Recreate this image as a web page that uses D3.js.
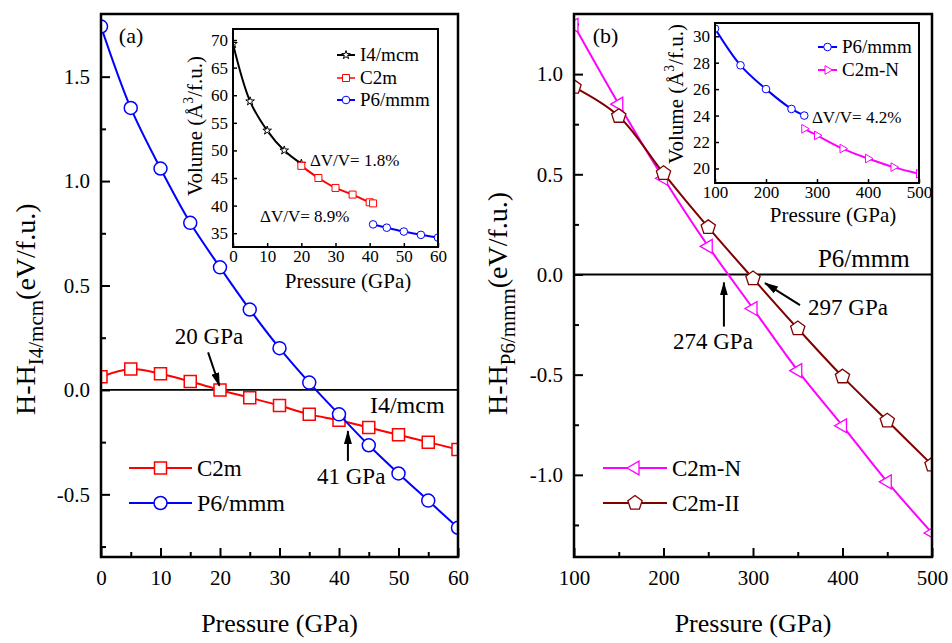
<!DOCTYPE html>
<html>
<head>
<meta charset="utf-8">
<script src="https://d3js.org/d3.v7.min.js"></script>
<style>
  body { margin:0; background:#fff; }
  text { font-family:"Liberation Serif","Times New Roman",serif; fill:#000; }
</style>
</head>
<body>
<div id="chart"></div>
<script>
// ---- panel (a): enthalpy relative to I4/mcm ----
var pressureA = [0,5,10,15,20,25,30,35,40,45,50,55,60];
var c2mA      = [0.063,0.10,0.077,0.04,0.0,-0.037,-0.075,-0.117,-0.145,-0.18,-0.215,-0.25,-0.285];
var p6mmmA    = [1.74,1.35,1.06,0.80,0.587,0.385,0.20,0.035,-0.117,-0.265,-0.40,-0.53,-0.66];

// inset (a): volume
var insetI4P  = [0,5,10,15,20];
var insetI4V  = [69.3,58.9,53.6,50.0,47.6];
var insetC2mP = [20,25,30,35,40,41];
var insetC2mV = [47.2,45.0,43.2,42.0,40.6,40.4];
var insetP6P  = [41,45,50,55,60];
var insetP6V  = [36.6,36.0,35.3,34.7,34.2];

// ---- panel (b): enthalpy relative to P6/mmm ----
var pressureB = [100,150,200,250,300,350,400,450,500];
var c2mNB     = [1.244,0.85,0.48,0.14,-0.17,-0.48,-0.755,-1.035,-1.29];
var c2mIIB    = [0.935,0.79,0.505,0.235,-0.02,-0.27,-0.51,-0.73,-0.95];

// inset (b): volume
var insetBP6P  = [100,150,200,250,275];
var insetBP6V  = [30.58,27.8,26.0,24.5,24.0];
var insetBC2mP = [275,300,350,400,450,500];
var insetBC2mV = [23.0,22.5,21.5,20.75,20.1,19.6];

// tick values
var ticksAx = [0,10,20,30,40,50,60],  minorAx = [5,15,25,35,45,55];
var ticksAy = [-0.5,0,0.5,1,1.5],     minorAy = [-0.75,-0.25,0.25,0.75,1.25,1.75];
var ticksBx = [100,200,300,400,500],  minorBx = [150,250,350,450];
var ticksBy = [-1,-0.5,0,0.5,1],      minorBy = [-1.25,-0.75,-0.25,0.25,0.75,1.25];
var ticksIAx = [0,10,20,30,40,50,60], ticksIAy = [35,40,45,50,55,60,65,70];
var ticksIBx = [100,200,300,400,500], ticksIBy = [20,22,24,26,28,30];

var BLUE = "#0000ff", RED = "#ff0000", MAG = "#ff00ff", WINE = "#800000";

var svg = d3.select("#chart").append("svg").attr("width",952).attr("height",643);
var defs = svg.append("defs");
defs.append("marker").attr("id","arrow")
  .attr("viewBox","0 0 14 8").attr("refX",13).attr("refY",4)
  .attr("markerUnits","userSpaceOnUse").attr("markerWidth",14).attr("markerHeight",8)
  .attr("orient","auto")
  .append("path").attr("d","M0,0L14,4L0,8Z").attr("fill","#000");

function shapePath(shape, r) {
  if (shape == "circle") return d3.symbol(d3.symbolCircle, Math.PI*r*r)();
  if (shape == "square") return "M"+(-r)+","+(-r)+"H"+r+"V"+r+"H"+(-r)+"Z";
  if (shape == "star") return d3.symbol(d3.symbolStar, r*r/0.8908)();
  var pts;
  if (shape == "triL") pts = [[-r,0],[r/2,-r*0.866],[r/2,r*0.866]];
  if (shape == "triR") pts = [[r,0],[-r/2,-r*0.866],[-r/2,r*0.866]];
  if (shape == "pent") pts = d3.range(5).map(function(k){
    var a = (-90 + k*72)*Math.PI/180; return [r*Math.cos(a), r*Math.sin(a)]; });
  return "M" + pts.map(function(p){return p.join(",");}).join("L") + "Z";
}

var clipN = 0;
function plotArea(x, y) {
  var id = "clip" + (clipN++);
  defs.append("clipPath").attr("id",id).append("rect")
    .attr("x",x.range()[0]).attr("y",y.range()[1])
    .attr("width",x.range()[1]-x.range()[0]).attr("height",y.range()[0]-y.range()[1]);
  return svg.append("g").attr("clip-path","url(#"+id+")");
}

function axes(x, y, o) {
  var b = y.range()[0], l = x.range()[0];
  function style(g, fs, sw) {
    g.attr("font-family","Liberation Serif, Times New Roman, serif").attr("font-size",fs);
    g.select(".domain").remove();
    g.selectAll("line").attr("stroke-width",sw);
  }
  if (o.xMinor) svg.append("g").attr("transform","translate(0,"+b+")")
    .call(d3.axisBottom(x).tickValues(o.xMinor).tickSize(-o.minor).tickFormat(""))
    .call(style, o.fs, o.sw);
  svg.append("g").attr("transform","translate(0,"+b+")")
    .call(d3.axisBottom(x).tickValues(o.xMajor).tickSize(-o.major).tickPadding(o.xPad).tickFormat(d3.format("d")))
    .call(style, o.fs, o.sw);
  if (o.yMinor) svg.append("g").attr("transform","translate("+l+",0)")
    .call(d3.axisLeft(y).tickValues(o.yMinor).tickSize(-o.minor).tickFormat(""))
    .call(style, o.fs, o.sw);
  svg.append("g").attr("transform","translate("+l+",0)")
    .call(d3.axisLeft(y).tickValues(o.yMajor).tickSize(-o.major).tickPadding(o.yPad)
      .tickFormat(function(d){ return o.yFmt ? d.toFixed(o.yFmt) : d3.format("d")(d); }))
    .call(style, o.fs, o.sw);
}

function frame(x, y, sw, fill) {
  svg.append("rect")
    .attr("x",x.range()[0]).attr("y",y.range()[1])
    .attr("width",x.range()[1]-x.range()[0]).attr("height",y.range()[0]-y.range()[1])
    .attr("fill",fill || "none").attr("stroke","#000").attr("stroke-width",sw);
}

function series(g, x, y, px, vals, color, shape, r, lw, msw) {
  var pts = px.map(function(p,i){ return [p, vals[i]]; });
  g.append("path").datum(pts)
    .attr("d", d3.line().x(function(d){return x(d[0]);}).y(function(d){return y(d[1]);}).curve(d3.curveCatmullRom))
    .attr("fill","none").attr("stroke",color).attr("stroke-width",lw);
  g.selectAll(null).data(pts).enter().append("path")
    .attr("transform",function(d){ return "translate("+x(d[0])+","+y(d[1])+")"; })
    .attr("d", shapePath(shape, r))
    .attr("fill","#fff").attr("stroke",color).attr("stroke-width",msw);
}

function legendItem(x1, x2, yy, color, shape, r, lw, msw, label, fs) {
  svg.append("line").attr("x1",x1).attr("x2",x2).attr("y1",yy).attr("y2",yy)
    .attr("stroke",color).attr("stroke-width",lw);
  svg.append("path").attr("transform","translate("+((x1+x2)/2)+","+yy+")")
    .attr("d",shapePath(shape,r)).attr("fill","#fff").attr("stroke",color).attr("stroke-width",msw);
  svg.append("text").attr("x",x2+5).attr("y",yy).attr("dy","0.33em").attr("font-size",fs).text(label);
}

function label(x, y, px, py, txt, fs) {
  svg.append("text").attr("x",x(px)).attr("y",y(py)).attr("font-size",fs).text(txt);
}

function arrow(x, y, p0, v0, p1, v1) {
  svg.append("line").attr("x1",x(p0)).attr("y1",y(v0)).attr("x2",x(p1)).attr("y2",y(v1))
    .attr("stroke","#000").attr("stroke-width",2).attr("marker-end","url(#arrow)");
}

function yTitle(bx, by, sub, fs, sfs) {
  var t = svg.append("text").attr("transform","translate("+bx+","+by+") rotate(-90)")
    .attr("font-size",fs);
  t.append("tspan").text("H-H");
  t.append("tspan").attr("font-size",sfs).attr("dy",8).text(sub);
  t.append("tspan").attr("dy",-8).text("(eV/f.u.)");
}

function volTitle(bx, cy, fs) {
  var t = svg.append("text").attr("transform","translate("+bx+","+cy+") rotate(-90)")
    .attr("text-anchor","middle").attr("font-size",fs);
  t.append("tspan").text("Volume (Å");
  t.append("tspan").attr("font-size",fs*0.65).attr("dy",-9).text("3");
  t.append("tspan").attr("dy",9).text("/f.u.)");
}

// ================= panel (a) =================
var xA = d3.scaleLinear().domain([0,60]).range([101,458]);
var yA = d3.scaleLinear().domain([-0.8,1.8]).range([557,14]);
axes(xA, yA, {xMajor:ticksAx, xMinor:minorAx, yMajor:ticksAy, yMinor:minorAy,
  major:9, minor:5, fs:21, sw:2, xPad:13, yPad:11, yFmt:1});
var gA = plotArea(xA, yA);
gA.append("line").attr("x1",xA(0)).attr("x2",xA(60)).attr("y1",yA(0)).attr("y2",yA(0))
  .attr("stroke","#000").attr("stroke-width",1.8);
series(gA, xA, yA, pressureA, c2mA, RED, "square", 6, 2, 1.5);
series(gA, xA, yA, pressureA, p6mmmA, BLUE, "circle", 6.5, 2, 1.5);
frame(xA, yA, 2.5);
legendItem(129, 192, 468, RED, "square", 6, 2, 1.5, "C2m", 23);
legendItem(129, 192, 503, BLUE, "circle", 6.5, 2, 1.5, "P6/mmm", 24);
label(xA, yA, 3.0, 1.66, "(a)", 22);
label(xA, yA, 12.4, 0.22, "20 GPa", 23);
arrow(xA, yA, 18.0, 0.18, 19.9, 0.02);
label(xA, yA, 45.2, -0.11, "I4/mcm", 24);
label(xA, yA, 36.3, -0.45, "41 GPa", 23);
arrow(xA, yA, 41.5, -0.34, 41.5, -0.197);
svg.append("text").attr("x",(xA.range()[0]+xA.range()[1])/2).attr("y",632)
  .attr("text-anchor","middle").attr("font-size",26).text("Pressure (GPa)");
yTitle(35, 415, "I4/mcm", 28, 21);

// inset (a)
var xIA = d3.scaleLinear().domain([0,60]).range([233,438]);
var yIA = d3.scaleLinear().domain([32.5,72]).range([247,29]);
frame(xIA, yIA, 2, "#fff");
axes(xIA, yIA, {xMajor:ticksIAx, yMajor:ticksIAy, major:4, minor:0, fs:17, sw:1.5, xPad:3, yPad:5});
var gIA = plotArea(xIA, yIA);
series(gIA, xIA, yIA, insetI4P, insetI4V, "#000", "star", 4.5, 2, 1);
series(gIA, xIA, yIA, insetC2mP, insetC2mV, RED, "square", 3.5, 2, 1);
series(gIA, xIA, yIA, insetP6P, insetP6V, BLUE, "circle", 3.8, 2, 1);
frame(xIA, yIA, 2);
legendItem(337, 355, 55, "#000", "star", 4.5, 2, 1, "I4/mcm", 19);
legendItem(337, 355, 78, RED, "square", 3.5, 1.5, 1, "C2m", 19);
legendItem(337, 355, 100, BLUE, "circle", 3.8, 2, 1, "P6/mmm", 19);
label(xIA, yIA, 22.5, 47.2, "ΔV/V= 1.8%", 17);
label(xIA, yIA, 7.9, 37.0, "ΔV/V= 8.9%", 17);
svg.append("text").attr("x",348).attr("y",288).attr("text-anchor","middle")
  .attr("font-size",21).text("Pressure (GPa)");
volTitle(202, 126, 21);

// ================= panel (b) =================
var xB = d3.scaleLinear().domain([100,500]).range([574,932]);
var yB = d3.scaleLinear().domain([-1.41,1.3]).range([557,14]);
axes(xB, yB, {xMajor:ticksBx, xMinor:minorBx, yMajor:ticksBy, yMinor:minorBy,
  major:9, minor:5, fs:21, sw:2, xPad:13, yPad:11, yFmt:1});
var gB = plotArea(xB, yB);
gB.append("line").attr("x1",xB(100)).attr("x2",xB(500)).attr("y1",yB(0)).attr("y2",yB(0))
  .attr("stroke","#000").attr("stroke-width",1.8);
series(gB, xB, yB, pressureB, c2mNB, MAG, "triL", 8, 2, 1.3);
series(gB, xB, yB, pressureB, c2mIIB, WINE, "pent", 7.5, 2, 1.3);
frame(xB, yB, 2.5);
legendItem(603, 667, 468, MAG, "triL", 8, 2, 1.3, "C2m-N", 23);
legendItem(603, 667, 503, WINE, "pent", 7.5, 2, 1.3, "C2m-II", 23);
label(xB, yB, 121, 1.155, "(b)", 22);
label(xB, yB, 372.6, 0.036, "P6/mmm", 25);
label(xB, yB, 361.5, -0.203, "297 GPa", 23);
arrow(xB, yB, 352.5, -0.153, 313.4, -0.043);
label(xB, yB, 210.6, -0.37, "274 GPa", 23);
arrow(xB, yB, 267.5, -0.26, 267.5, -0.04);
svg.append("text").attr("x",(xB.range()[0]+xB.range()[1])/2).attr("y",632)
  .attr("text-anchor","middle").attr("font-size",26).text("Pressure (GPa)");
yTitle(507, 415, "P6/mmm", 28, 21);

// inset (b)
var xIB = d3.scaleLinear().domain([100,500]).range([715,919]);
var yIB = d3.scaleLinear().domain([18.9,31]).range([183,23]);
frame(xIB, yIB, 2, "#fff");
axes(xIB, yIB, {xMajor:ticksIBx, yMajor:ticksIBy, major:4, minor:0, fs:17, sw:1.5, xPad:3, yPad:5});
var gIB = plotArea(xIB, yIB);
series(gIB, xIB, yIB, insetBP6P, insetBP6V, BLUE, "circle", 3.8, 2, 1);
series(gIB, xIB, yIB, insetBC2mP, insetBC2mV, MAG, "triR", 5, 2, 1);
frame(xIB, yIB, 2);
legendItem(818, 837, 47, BLUE, "circle", 3.8, 2, 1, "P6/mmm", 19);
legendItem(818, 837, 70, MAG, "triR", 5, 2, 1, "C2m-N", 19);
label(xIB, yIB, 290, 23.4, "ΔV/V= 4.2%", 17);
svg.append("text").attr("x",833).attr("y",222).attr("text-anchor","middle")
  .attr("font-size",21).text("Pressure (GPa)");
volTitle(683, 94, 21);
</script>
</body>
</html>
